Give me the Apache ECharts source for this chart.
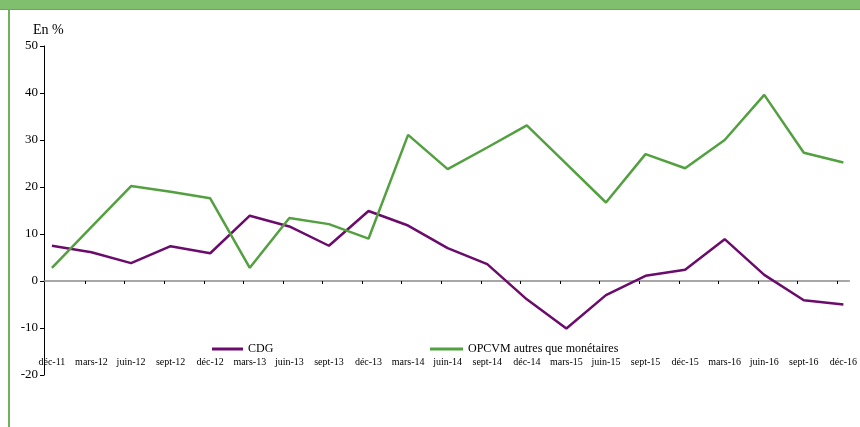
<!DOCTYPE html>
<html>
<head>
<meta charset="utf-8">
<script src="https://cdn.jsdelivr.net/npm/echarts@6/dist/echarts.min.js"></script>
<style>
html,body{margin:0;padding:0;background:#fff;}
#chart{width:860px;height:427px;}
</style>
</head>
<body>
<div id="chart"></div>
<script>
// Quarterly periods
const categories = ['déc-11','mars-12','juin-12','sept-12','déc-12','mars-13','juin-13','sept-13','déc-13','mars-14','juin-14','sept-14','déc-14','mars-15','juin-15','sept-15','déc-15','mars-16','juin-16','sept-16','déc-16'];
// Growth rates, in %
const cdg = [7.5, 6.1, 3.8, 7.4, 5.9, 13.9, 11.6, 7.5, 14.9, 11.8, 7.0, 3.6, -3.9, -10.1, -3.0, 1.1, 2.4, 8.9, 1.3, -4.1, -5.0];
const opcvm = [2.8, 11.5, 20.2, 19.0, 17.6, 2.8, 13.4, 12.1, 9.0, 31.1, 23.8, 28.4, 33.1, 24.9, 16.7, 27.0, 24.0, 30.0, 39.6, 27.3, 25.2];
const seriesNames = ['CDG', 'OPCVM autres que monétaires'];
const yTicks = [-20, -10, 0, 10, 20, 30, 40, 50];

const FONT = '"Liberation Serif", "DejaVu Serif", serif';
const PURPLE = '#6b0b6b';
const GREEN = '#52a03f';

const xMin = -0.2, xMax = 20.15;
const labelPos = categories.map((c, i) => i);
const tickPos = categories.slice(1).map((c, i) => i + 0.84);

const chart = echarts.init(document.getElementById('chart'), null, {renderer: 'canvas'});
chart.setOption({
  animation: false,
  backgroundColor: '#fff',
  title: {
    text: 'En %', left: 28, top: 18,
    textStyle: {fontFamily: FONT, fontSize: 14, fontWeight: 'normal', color: '#000'}
  },
  legend: [
    {
      data: [seriesNames[0]], left: 207, top: 338, itemWidth: 31, itemHeight: 3, icon: 'rect', itemGap: 0,
      textStyle: {fontFamily: FONT, fontSize: 12, color: '#000'}
    },
    {
      data: [seriesNames[1]], left: 425, top: 338, itemWidth: 33, itemHeight: 3, icon: 'rect', itemGap: 0,
      textStyle: {fontFamily: FONT, fontSize: 12, color: '#000'}
    }
  ],
  grid: {left: 44, right: 8, top: 46, bottom: 52, containLabel: false},
  xAxis: [
    {
      type: 'value', min: xMin, max: xMax, position: 'bottom', offset: -18,
      axisLine: {show: false, onZero: false}, axisTick: {show: false}, splitLine: {show: false},
      axisLabel: {
        customValues: labelPos, margin: 0, fontFamily: FONT, fontSize: 10, color: '#000',
        formatter: v => categories[Math.round(v)]
      }
    },
    {
      type: 'value', min: xMin, max: xMax, position: 'bottom',
      axisLine: {show: true, onZero: true, lineStyle: {color: '#8a8a8a', width: 1.5}},
      axisTick: {show: true, customValues: tickPos, length: 3, lineStyle: {color: '#000', width: 1}},
      axisLabel: {show: false}, splitLine: {show: false}
    }
  ],
  yAxis: {
    type: 'value', min: -20, max: 50, interval: 10,
    axisLine: {show: true, onZero: false, lineStyle: {color: '#000', width: 1}},
    axisTick: {show: true, length: 4, lineStyle: {color: '#000'}},
    splitLine: {show: false},
    axisLabel: {
      margin: 6, fontFamily: FONT, fontSize: 13, color: '#000',
      formatter: v => yTicks.includes(v) ? String(v) : ''
    }
  },
  series: [
    {
      name: seriesNames[0], type: 'line', xAxisIndex: 0, symbol: 'none',
      data: cdg.map((v, i) => [i, v]), color: PURPLE,
      lineStyle: {color: PURPLE, width: 2.5}
    },
    {
      name: seriesNames[1], type: 'line', xAxisIndex: 0, symbol: 'none',
      data: opcvm.map((v, i) => [i, v]), color: GREEN,
      lineStyle: {color: GREEN, width: 2.5}
    }
  ],
  graphic: [
    {type: 'rect', left: 0, top: 0, shape: {width: 860, height: 9}, style: {fill: '#80bf6e'}, silent: true},
    {type: 'rect', left: 0, top: 9, shape: {width: 860, height: 1}, style: {fill: '#66aa55'}, silent: true},
    {type: 'rect', left: 8, top: 9, shape: {width: 2, height: 418}, style: {fill: '#6db35c'}, silent: true}
  ]
});
</script>
</body>
</html>
